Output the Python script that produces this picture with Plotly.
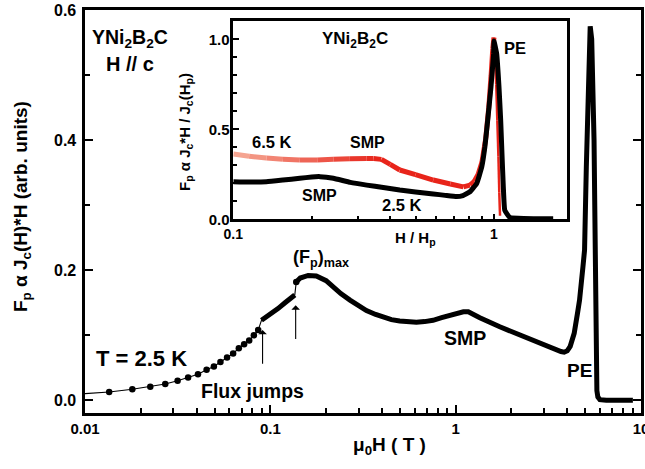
import plotly.graph_objects as go
import numpy as np

# ---------------- main panel data (T = 2.5 K) ----------------
# sparse low-field points (shown as dots)
H_dots = [0.0135, 0.018, 0.0225, 0.0271, 0.0316, 0.036, 0.0407, 0.0453, 0.0496, 0.0538,
          0.0584, 0.063, 0.0676, 0.0722, 0.0769, 0.0815, 0.086]
F_dots = [0.0128, 0.017, 0.021, 0.025, 0.030, 0.035, 0.040, 0.047, 0.052, 0.059,
          0.066, 0.072, 0.080, 0.086, 0.092, 0.100, 0.108]
# thin line start at the left frame
H_start = [0.01]
F_start = [0.0103]
# dense segment between the two flux jumps
H_seg1 = [0.0896, 0.1, 0.11, 0.12, 0.13, 0.1355]
F_seg1 = [0.123, 0.132, 0.141, 0.150, 0.157, 0.162]
# dense segment after the second flux jump
H_seg2 = [0.138, 0.145, 0.16, 0.177, 0.2, 0.218, 0.24, 0.269, 0.3, 0.33, 0.37, 0.406, 0.45,
          0.499, 0.55, 0.614, 0.68, 0.755, 0.84, 0.929, 1.0, 1.1, 1.17, 1.24, 1.35, 1.73,
          2.1, 2.61, 3.2, 3.5, 3.7, 3.85, 4.0, 4.15, 4.36, 4.55, 4.66, 4.86, 4.96, 5.07, 5.18,
          5.24, 5.32, 5.42, 5.50, 5.58, 5.63, 5.67, 5.71, 5.74, 5.78, 5.85, 6.0, 6.5, 7.0,
          8.0, 9.04]
F_seg2 = [0.182, 0.188, 0.192, 0.191, 0.184, 0.174, 0.164, 0.154, 0.146, 0.138, 0.132, 0.128,
          0.124, 0.122, 0.121, 0.120, 0.121, 0.123, 0.127, 0.131, 0.134, 0.136, 0.136, 0.133,
          0.127, 0.113, 0.103, 0.092, 0.082, 0.078, 0.075, 0.074, 0.076, 0.083, 0.103, 0.135,
          0.154, 0.205, 0.231, 0.359, 0.46, 0.538, 0.575, 0.555, 0.50, 0.40, 0.30, 0.20, 0.10,
          0.04, 0.015, 0.005, 0.001, 0.0, 0.0, 0.0, 0.0]

# ---------------- inset data ----------------
h_25 = [0.1, 0.115, 0.134, 0.155, 0.18, 0.2, 0.215, 0.242, 0.281, 0.325, 0.376, 0.435, 0.5,
        0.585, 0.65, 0.719, 0.76, 0.809, 0.859, 0.898, 0.923, 0.946, 0.974, 0.997, 1.0,
        1.024, 1.045, 1.061, 1.073, 1.086, 1.10, 1.15, 1.3, 1.5, 1.687]
f_25 = [0.209, 0.207, 0.209, 0.218, 0.228, 0.235, 0.237, 0.228, 0.205, 0.19, 0.177, 0.163,
        0.152, 0.141, 0.133, 0.126, 0.132, 0.153, 0.2, 0.292, 0.403, 0.55, 0.737, 0.92, 0.99,
        0.92, 0.737, 0.55, 0.367, 0.18, 0.05, 0.01, 0.004, 0.003, 0.003]

h_65 = [0.1, 0.115, 0.134, 0.155, 0.18, 0.21, 0.242, 0.28, 0.325, 0.345, 0.37, 0.4, 0.435,
        0.5, 0.585, 0.68, 0.763, 0.809, 0.84, 0.87, 0.9, 0.93, 0.955, 0.975, 0.99, 1.0,
        1.01, 1.02, 1.03, 1.04, 1.048, 1.055]
f_65 = [0.363, 0.350, 0.340, 0.333, 0.329, 0.330, 0.333, 0.336, 0.338, 0.338, 0.333, 0.305,
        0.274, 0.248, 0.218, 0.196, 0.18, 0.19, 0.21, 0.25, 0.32, 0.45, 0.62, 0.80, 0.95,
        1.01, 0.90, 0.75, 0.55, 0.35, 0.15, 0.02]

# ---------------- ticks ----------------
main_xticks = [0.01, 0.1, 1, 10]
main_xticktext = ["0.01", "0.1", "1", "10"]
main_xminor = [m * d for d in (0.01, 0.1, 1) for m in range(2, 10)]
main_yticks = [0.0, 0.2, 0.4, 0.6]
main_yticktext = ["0.0", "0.2", "0.4", "0.6"]
main_yminor = [0.1, 0.3, 0.5]
ins_xticks = [0.1, 1]
ins_xticktext = ["0.1", "1"]
ins_xminor = [m * 0.1 for m in range(2, 10)]
ins_yticks = [0.0, 0.5, 1.0]
ins_yticktext = ["0.0", "0.5", "1.0"]
ins_yminor = [0.1, 0.2, 0.3, 0.4, 0.6, 0.7, 0.8, 0.9]

FONT = "Liberation Sans, Arial, Helvetica, sans-serif"
BLACK = "#000000"

fig = go.Figure()

# thin connecting line through sparse points and the jump
fig.add_trace(go.Scatter(
    x=H_start + H_dots + H_seg1 + H_seg2[:1], y=F_start + F_dots + F_seg1 + F_seg2[:1],
    mode="lines", line=dict(color=BLACK, width=1.1), xaxis="x", yaxis="y",
    showlegend=False, hoverinfo="skip"))
fig.add_trace(go.Scatter(
    x=H_dots, y=F_dots, mode="markers",
    marker=dict(color=BLACK, size=6.5), xaxis="x", yaxis="y", showlegend=False))
fig.add_trace(go.Scatter(
    x=H_seg1, y=F_seg1, mode="lines", line=dict(color=BLACK, width=5),
    xaxis="x", yaxis="y", showlegend=False))
fig.add_trace(go.Scatter(
    x=H_seg2[:1], y=F_seg2[:1], mode="markers", marker=dict(color=BLACK, size=6.5),
    xaxis="x", yaxis="y", showlegend=False))
fig.add_trace(go.Scatter(
    x=H_seg2, y=F_seg2, mode="lines", line=dict(color=BLACK, width=5),
    xaxis="x", yaxis="y", showlegend=False))


# inset: 6.5 K (red, drawn under the black curve) - colour fades from salmon to red
def red_col(hval):
    t = (np.log10(hval) + 1.0) / (np.log10(0.36) + 1.0)
    t = min(max(t, 0.0), 1.0)
    c0 = np.array([246, 172, 152])
    c1 = np.array([232, 36, 26])
    c = c0 + (c1 - c0) * t
    return "rgb(%d,%d,%d)" % tuple(int(v) for v in c)


for i in range(len(h_65) - 1):
    hm = np.sqrt(h_65[i] * h_65[i + 1])
    w = 5 if h_65[i] < 1.0 else 2.5
    fig.add_trace(go.Scatter(x=h_65[i:i + 2], y=f_65[i:i + 2], mode="lines",
                             line=dict(color=red_col(hm), width=w),
                             xaxis="x2", yaxis="y2", showlegend=False))
# inset: 2.5 K black
fig.add_trace(go.Scatter(x=h_25, y=f_25, mode="lines",
                         line=dict(color=BLACK, width=5, shape="spline", smoothing=0.3),
                         xaxis="x2", yaxis="y2", showlegend=False))

# plot area in pixels
L, R, T, B = 85, 641, 10, 413
W, Hh = R - L, B - T


def px(x, y):
    return (x - L) / W, (B - y) / Hh


annots = []


def text(x, y, s, size, angle=0):
    xp, yp = px(x, y)
    annots.append(dict(x=xp, y=yp, xref="paper", yref="paper", text="<b>" + s + "</b>",
                       showarrow=False, textangle=angle,
                       font=dict(family=FONT, size=size, color=BLACK),
                       xanchor="center", yanchor="middle"))


text(130, 38, "YNi<sub>2</sub>B<sub>2</sub>C", 19.5)
text(130, 64, "H // c", 20)
text(141, 358, "T = 2.5 K", 22)
text(252, 391, "Flux jumps", 19.5)
text(321, 258, "(F<sub>p</sub>)<sub>max</sub>", 18)
text(465, 338, "SMP", 19.5)
text(579, 370, "PE", 19)
text(389, 446, "μ<sub>0</sub>H ( T )", 19)
text(22, 207, "F<sub>p</sub> α J<sub>c</sub>(H)*H (arb. units)", 19, -90)
# inset texts
text(355, 40, "YNi<sub>2</sub>B<sub>2</sub>C", 17)
text(515, 48, "PE", 16.5)
text(272, 142, "6.5 K", 16.5)
text(367, 142, "SMP", 16)
text(319, 195, "SMP", 16)
text(402, 205, "2.5 K", 16.5)
text(415, 239, "H / H<sub>p</sub>", 15)
text(185, 132, "F<sub>p</sub> α J<sub>c</sub>*H / J<sub>c</sub>(H<sub>p</sub>)", 15, -90)

# main y tick labels (placed close to the axis, as in the original)
for v, lab in zip(main_yticks, main_yticktext):
    annots.append(dict(x=px(78, 0)[0], y=v, xref="paper", yref="y", text="<b>" + lab + "</b>",
                       showarrow=False, xanchor="right", yanchor="middle",
                       font=dict(family=FONT, size=16, color=BLACK)))

# flux jump arrows
for hx, y0, y1 in [(0.0908, 0.054, 0.108), (0.137, 0.092, 0.146)]:
    annots.append(dict(x=np.log10(hx), y=y1, ax=np.log10(hx), ay=y0, xref="x", yref="y",
                       axref="x", ayref="y", showarrow=True, arrowhead=1, arrowsize=1.3,
                       arrowwidth=1.1, arrowcolor=BLACK, standoff=0, startstandoff=0, text=""))

axis_common = dict(showline=True, linecolor=BLACK, linewidth=2.5, showgrid=False,
                   zeroline=False, ticks="inside", tickcolor=BLACK, tickwidth=2,
                   automargin=False)

fig.update_layout(
    width=645, height=469,
    margin=dict(l=L, r=645 - R, t=T, b=469 - B),
    paper_bgcolor="white", plot_bgcolor="white",
    showlegend=False,
    font=dict(family=FONT, color=BLACK),
    xaxis=dict(type="log", range=[-2, 1], mirror=True, ticklen=8,
               ticklabeloverflow="allow",
               tickvals=main_xticks, ticktext=main_xticktext,
               tickfont=dict(family=FONT, size=15, weight="bold", color=BLACK),
               minor=dict(tickmode="array", tickvals=main_xminor, ticks="inside", ticklen=5,
                          tickcolor=BLACK, tickwidth=1.6, showgrid=False),
               **axis_common),
    yaxis=dict(range=[-0.0195, 0.6], mirror="ticks", ticklen=8, showticklabels=False,
               tickvals=main_yticks,
               minor=dict(tickmode="array", tickvals=main_yminor, ticks="inside", ticklen=5,
                          tickcolor=BLACK, tickwidth=1.6, showgrid=False),
               **axis_common),
    xaxis2=dict(type="log", range=[-1, 0.279], anchor="y2", mirror=True, ticklen=6,
                domain=[px(233.3, 0)[0], px(566.7, 0)[0]],
                tickvals=ins_xticks, ticktext=ins_xticktext,
                tickfont=dict(family=FONT, size=14, weight="bold", color=BLACK),
                minor=dict(tickmode="array", tickvals=ins_xminor, ticks="inside", ticklen=4,
                           tickcolor=BLACK, tickwidth=1.5, showgrid=False),
                **axis_common),
    yaxis2=dict(range=[0, 1.1], anchor="x2", mirror=True, ticklen=6, ticklabelstandoff=-2,
                domain=[px(0, 219.3)[1], px(0, 21.3)[1]],
                tickvals=ins_yticks, ticktext=ins_yticktext,
                tickfont=dict(family=FONT, size=15, weight="bold", color=BLACK),
                minor=dict(tickmode="array", tickvals=ins_yminor, ticks="inside", ticklen=4,
                           tickcolor=BLACK, tickwidth=1.5, showgrid=False),
                **axis_common),
    annotations=annots,
)

fig.write_html("out.html")
